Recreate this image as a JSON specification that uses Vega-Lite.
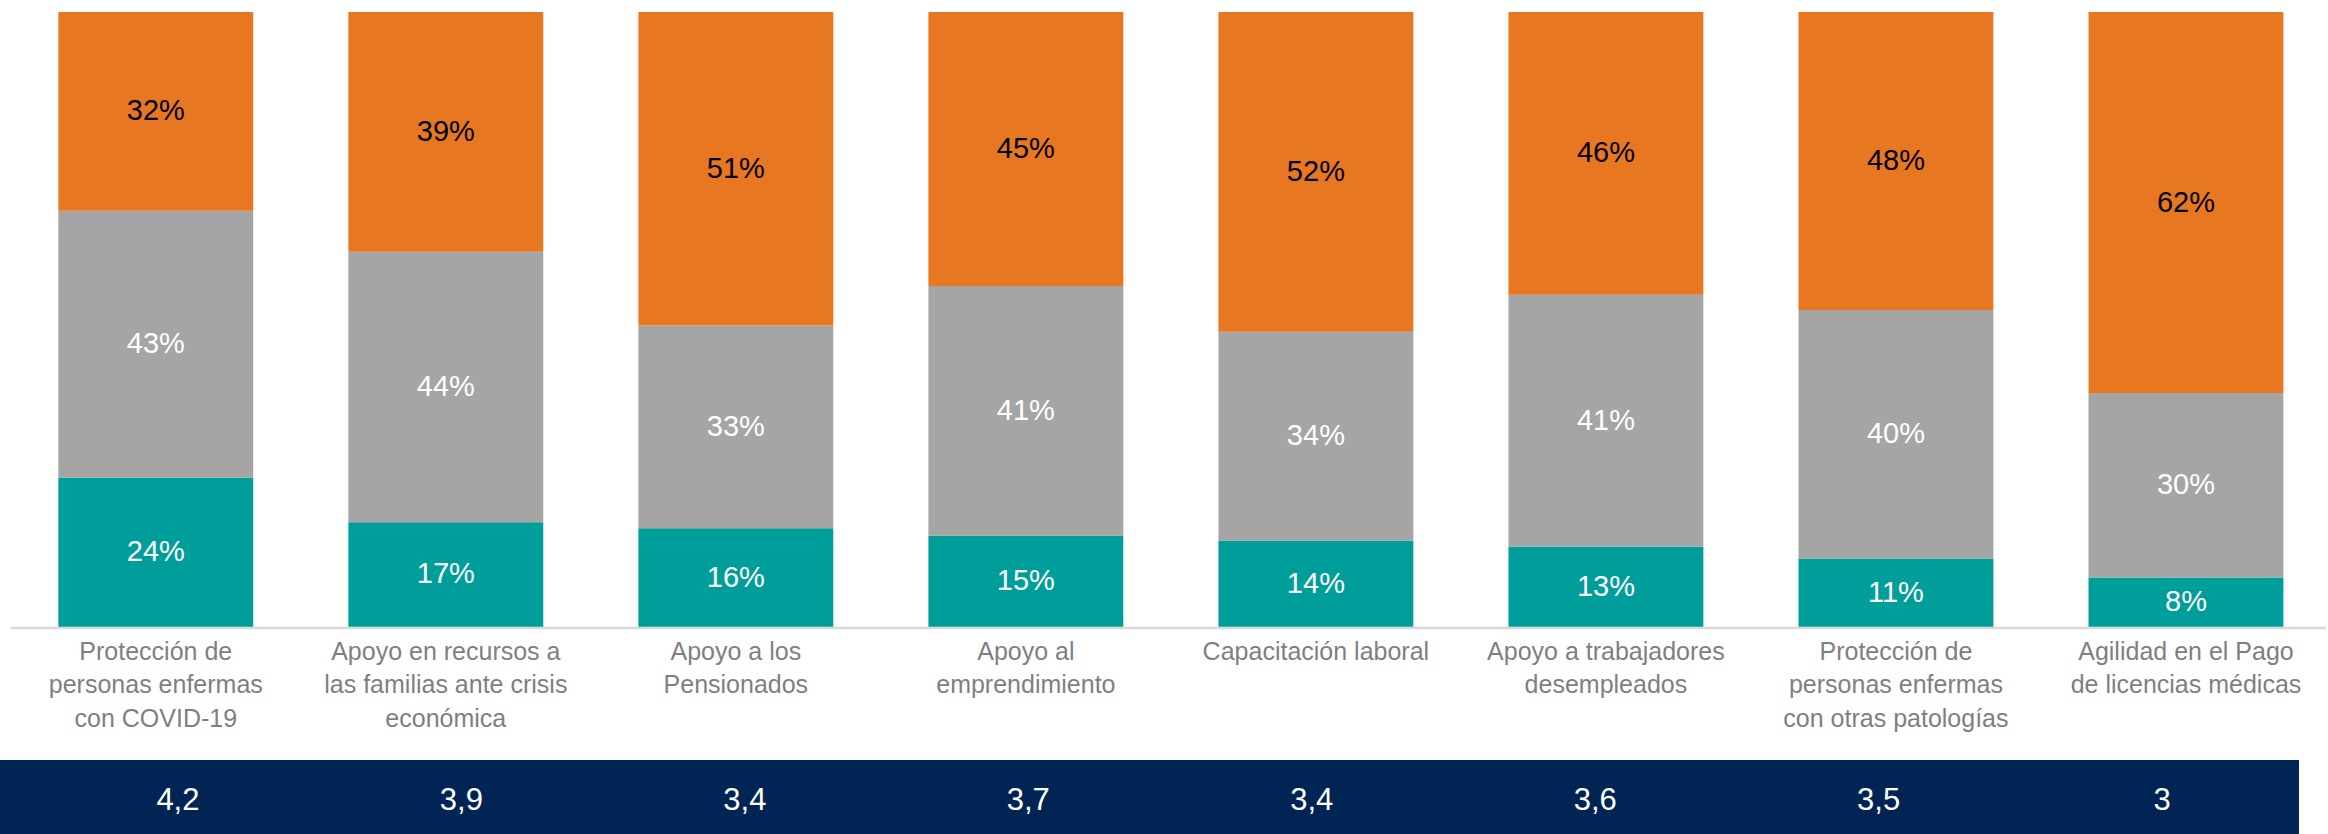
{
  "$schema": "https://vega.github.io/schema/vega-lite/v6.json",
  "width": 2328,
  "height": 834,
  "autosize": {"type": "fit", "contains": "padding"},
  "padding": 0,
  "background": "#ffffff",
  "config": {
    "view": {"stroke": null},
    "locale": {"number": {"decimal": ",", "thousands": ".", "grouping": [3], "currency": ["", " €"]}}
  },
  "datasets": {
    "segmentos": [
      {"categoria": "Protección de\npersonas enfermas\ncon COVID-19", "serie": "Nota 6-7", "pct": 0.24},
      {"categoria": "Protección de\npersonas enfermas\ncon COVID-19", "serie": "Nota 5", "pct": 0.43},
      {"categoria": "Protección de\npersonas enfermas\ncon COVID-19", "serie": "Nota 1-4", "pct": 0.32},
      {"categoria": "Apoyo en recursos a\nlas familias ante crisis\neconómica", "serie": "Nota 6-7", "pct": 0.17},
      {"categoria": "Apoyo en recursos a\nlas familias ante crisis\neconómica", "serie": "Nota 5", "pct": 0.44},
      {"categoria": "Apoyo en recursos a\nlas familias ante crisis\neconómica", "serie": "Nota 1-4", "pct": 0.39},
      {"categoria": "Apoyo a los\nPensionados", "serie": "Nota 6-7", "pct": 0.16},
      {"categoria": "Apoyo a los\nPensionados", "serie": "Nota 5", "pct": 0.33},
      {"categoria": "Apoyo a los\nPensionados", "serie": "Nota 1-4", "pct": 0.51},
      {"categoria": "Apoyo al\nemprendimiento", "serie": "Nota 6-7", "pct": 0.15},
      {"categoria": "Apoyo al\nemprendimiento", "serie": "Nota 5", "pct": 0.41},
      {"categoria": "Apoyo al\nemprendimiento", "serie": "Nota 1-4", "pct": 0.45},
      {"categoria": "Capacitación laboral", "serie": "Nota 6-7", "pct": 0.14},
      {"categoria": "Capacitación laboral", "serie": "Nota 5", "pct": 0.34},
      {"categoria": "Capacitación laboral", "serie": "Nota 1-4", "pct": 0.52},
      {"categoria": "Apoyo a trabajadores\ndesempleados", "serie": "Nota 6-7", "pct": 0.13},
      {"categoria": "Apoyo a trabajadores\ndesempleados", "serie": "Nota 5", "pct": 0.41},
      {"categoria": "Apoyo a trabajadores\ndesempleados", "serie": "Nota 1-4", "pct": 0.46},
      {"categoria": "Protección de\npersonas enfermas\ncon otras patologías", "serie": "Nota 6-7", "pct": 0.11},
      {"categoria": "Protección de\npersonas enfermas\ncon otras patologías", "serie": "Nota 5", "pct": 0.40},
      {"categoria": "Protección de\npersonas enfermas\ncon otras patologías", "serie": "Nota 1-4", "pct": 0.48},
      {"categoria": "Agilidad en el Pago\nde licencias médicas", "serie": "Nota 6-7", "pct": 0.08},
      {"categoria": "Agilidad en el Pago\nde licencias médicas", "serie": "Nota 5", "pct": 0.30},
      {"categoria": "Agilidad en el Pago\nde licencias médicas", "serie": "Nota 1-4", "pct": 0.62}
    ],
    "notas": [
      {"categoria": "Protección de\npersonas enfermas\ncon COVID-19", "nota": 4.2},
      {"categoria": "Apoyo en recursos a\nlas familias ante crisis\neconómica", "nota": 3.9},
      {"categoria": "Apoyo a los\nPensionados", "nota": 3.4},
      {"categoria": "Apoyo al\nemprendimiento", "nota": 3.7},
      {"categoria": "Capacitación laboral", "nota": 3.4},
      {"categoria": "Apoyo a trabajadores\ndesempleados", "nota": 3.6},
      {"categoria": "Protección de\npersonas enfermas\ncon otras patologías", "nota": 3.5},
      {"categoria": "Agilidad en el Pago\nde licencias médicas", "nota": 3}
    ]
  },
  "resolve": {"scale": {"x": "independent"}},
  "layer": [
    {
      "data": {"values": [{"linea": "base"}]},
      "mark": {"type": "rule", "color": "#d9d9d9", "strokeWidth": 2.5},
      "encoding": {
        "x": {"datum": 0.0047, "type": "quantitative", "scale": {"domain": [0, 1], "nice": false, "zero": false}, "axis": null},
        "x2": {"datum": 1},
        "y": {"datum": -0.0022, "type": "quantitative", "scale": {"domain": [-0.3372, 1.0195], "nice": false, "zero": false}, "axis": null}
      }
    },
    {
      "data": {"name": "segmentos"},
      "transform": [
        {"stack": "pct", "groupby": ["categoria"], "sort": [{"field": "serie", "order": "descending"}], "offset": "normalize", "as": ["y0", "y1"]}
      ],
      "layer": [
        {
          "mark": {"type": "bar"},
          "encoding": {
            "x": {
              "field": "categoria", "type": "nominal", "sort": null,
              "scale": {
                "type": "band",
                "domain": [
                  "Protección de\npersonas enfermas\ncon COVID-19",
                  "Apoyo en recursos a\nlas familias ante crisis\neconómica",
                  "Apoyo a los\nPensionados",
                  "Apoyo al\nemprendimiento",
                  "Capacitación laboral",
                  "Apoyo a trabajadores\ndesempleados",
                  "Protección de\npersonas enfermas\ncon otras patologías",
                  "Agilidad en el Pago\nde licencias médicas"
                ],
                "paddingInner": 0.328, "paddingOuter": 0.174, "align": 0.578
              },
              "axis": {
                "orient": "bottom", "offset": -206.5, "title": null, "ticks": false,
                "domain": false,
                "labelAngle": 0, "labelFont": "Liberation Sans",
                "labelFontSize": 25, "labelColor": "#7f7f7f", "labelPadding": 12,
                "labelLineHeight": 33.4, "labelLimit": 500,
                "labelExpr": "split(datum.label, '\\n')"
              }
            },
            "y": {"field": "y0", "type": "quantitative", "scale": {"domain": [-0.3372, 1.0195], "nice": false, "zero": false}, "axis": null},
            "y2": {"field": "y1"},
            "color": {
              "field": "serie", "type": "nominal",
              "scale": {"domain": ["Nota 6-7", "Nota 5", "Nota 1-4"], "range": ["#009e9a", "#a5a5a5", "#e87722"]},
              "legend": null
            }
          }
        },
        {
          "transform": [
            {"fold": ["y0", "y1"], "as": ["extremo", "pos"]},
            {"aggregate": [{"op": "mean", "field": "pos", "as": "medio"}], "groupby": ["categoria", "serie", "pct"]}
          ],
          "mark": {"type": "text", "font": "Liberation Sans", "fontSize": 29, "baseline": "middle", "align": "center"},
          "encoding": {
            "x": {"field": "categoria", "type": "nominal", "sort": null},
            "y": {"field": "medio", "type": "quantitative", "scale": {"domain": [-0.3372, 1.0195], "nice": false, "zero": false}},
            "text": {"field": "pct", "type": "quantitative", "format": ".0%"},
            "color": {"condition": {"test": "datum.serie === 'Nota 1-4'", "value": "#000000"}, "value": "#ffffff"}
          }
        }
      ]
    },
    {
      "data": {"values": [{"franja": "nota promedio"}]},
      "mark": {"type": "rect", "color": "#002453"},
      "encoding": {
        "x": {"datum": 0, "type": "quantitative", "scale": {"domain": [0, 1], "nice": false, "zero": false}, "axis": null},
        "x2": {"datum": 0.9884},
        "y": {"datum": -0.3372, "type": "quantitative", "scale": {"domain": [-0.3372, 1.0195], "nice": false, "zero": false}},
        "y2": {"datum": -0.2168}
      }
    },
    {
      "data": {"name": "notas"},
      "mark": {"type": "text", "font": "Liberation Sans", "fontSize": 31, "baseline": "middle", "align": "center", "color": "#ffffff"},
      "encoding": {
        "x": {
          "field": "categoria", "type": "nominal", "sort": null,
          "scale": {"type": "band", "paddingInner": 0, "paddingOuter": 0.103, "align": 0.62},
          "axis": null
        },
        "y": {"datum": -0.2836, "type": "quantitative", "scale": {"domain": [-0.3372, 1.0195], "nice": false, "zero": false}},
        "text": {"field": "nota", "type": "quantitative", "format": ".1~f"}
      }
    }
  ]
}
